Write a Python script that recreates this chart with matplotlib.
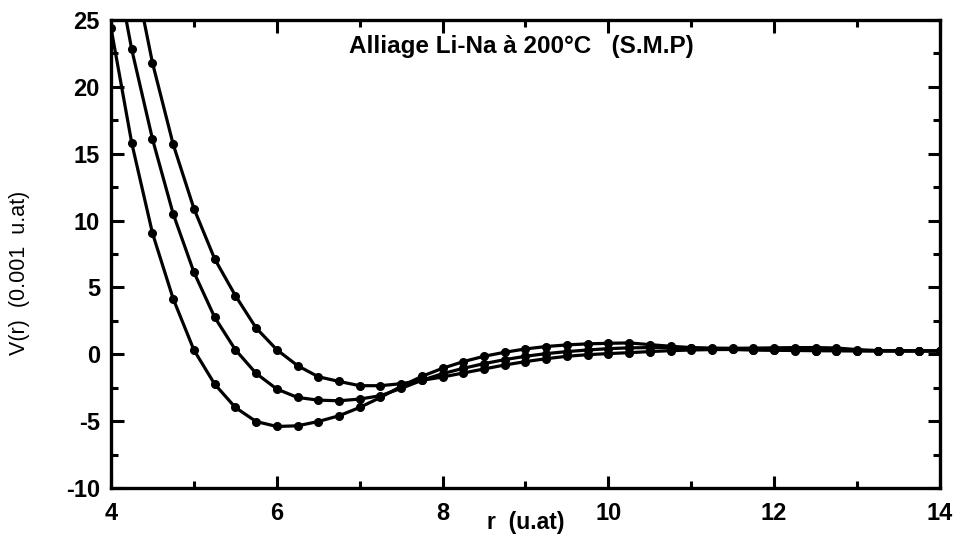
import numpy as np
import matplotlib
matplotlib.use("Agg")
import matplotlib.pyplot as plt
from matplotlib.ticker import MultipleLocator

plt.rcParams['font.family'] = ['Liberation Sans', 'DejaVu Sans']
plt.rcParams['axes.unicode_minus'] = False

# r grid (u.at) shared by the three potentials
r = [4.0, 4.25, 4.5, 4.75, 5.0, 5.25, 5.5, 5.75, 6.0, 6.25, 6.5, 6.75, 7.0,
     7.25, 7.5, 7.75, 8.0, 8.25, 8.5, 8.75, 9.0, 9.25, 9.5, 9.75, 10.0,
     10.25, 10.5, 10.75, 11.0, 11.25, 11.5, 11.75, 12.0, 12.25, 12.5, 12.75,
     13.0, 13.25, 13.5, 13.75, 14.0]

# V(r) in 0.001 u.at
v_a = [24.4, 15.8, 9.06, 4.15, 0.32, -2.23, -3.98, -5.03, -5.4, -5.35, -5.03,
       -4.6, -3.98, -3.23, -2.4, -1.65, -1.05, -0.55, -0.15, 0.15, 0.4, 0.58,
       0.7, 0.78, 0.82, 0.85, 0.72, 0.6, 0.5, 0.42, 0.36, 0.32, 0.3, 0.28,
       0.27, 0.27, 0.26, 0.25, 0.25, 0.25, 0.25]
v_b = [31.0, 22.8, 16.1, 10.5, 6.14, 2.77, 0.34, -1.43, -2.6, -3.23, -3.43,
       -3.48, -3.35, -3.1, -2.55, -1.95, -1.45, -1.05, -0.7, -0.4, -0.15, 0.05,
       0.2, 0.32, 0.42, 0.48, 0.5, 0.5, 0.48, 0.46, 0.45, 0.46, 0.48, 0.5,
       0.5, 0.47, 0.35, 0.28, 0.26, 0.25, 0.25]
v_c = [39.5, 29.5, 21.8, 15.7, 10.9, 7.14, 4.39, 1.97, 0.34, -0.85, -1.68,
       -2.03, -2.35, -2.35, -2.2, -1.95, -1.7, -1.4, -1.1, -0.8, -0.55, -0.33,
       -0.15, -0.03, 0.05, 0.12, 0.2, 0.27, 0.32, 0.35, 0.36, 0.35, 0.32, 0.3,
       0.28, 0.27, 0.26, 0.25, 0.25, 0.25, 0.25]

fig = plt.figure(figsize=(9.62, 5.35), dpi=100)
ax = fig.add_axes([0.1154, 0.0879, 0.8617, 0.8747])

for v in (v_a, v_b, v_c):
    ax.plot(r, v, color='black', lw=2.3, marker='o', ms=5.5, mfc='black',
            mec='black')

ax.set_xlim(4, 14)
ax.set_ylim(-10, 25)
ax.xaxis.set_major_locator(MultipleLocator(2))
ax.xaxis.set_minor_locator(MultipleLocator(1))
ax.yaxis.set_major_locator(MultipleLocator(5))
ax.yaxis.set_minor_locator(MultipleLocator(2.5))

for s in ax.spines.values():
    s.set_linewidth(2.4)
ax.tick_params(which='both', direction='in', top=True, right=True, width=2.2)
ax.tick_params(which='major', length=9, labelsize=17)
ax.tick_params(axis='x', which='major', pad=10)
ax.tick_params(axis='y', which='major', pad=8)
ax.tick_params(which='minor', length=5)
for lab in ax.get_xticklabels() + ax.get_yticklabels():
    lab.set_fontweight('bold')

ax.set_xlabel('r  (u.at)', fontsize=16.5, fontweight='bold')
ax.xaxis.set_label_coords(0.5, -0.05)
ax.set_ylabel('V(r)  (0.001  u.at)', fontsize=15.5)
ax.yaxis.set_label_coords(-0.098, 0.46)

ax.text(0.495, 0.944, 'Alliage Li-Na à 200°C   (S.M.P)', transform=ax.transAxes,
        ha='center', va='center', fontsize=17.5, fontweight='bold')

fig.savefig('out.png', dpi=100)
